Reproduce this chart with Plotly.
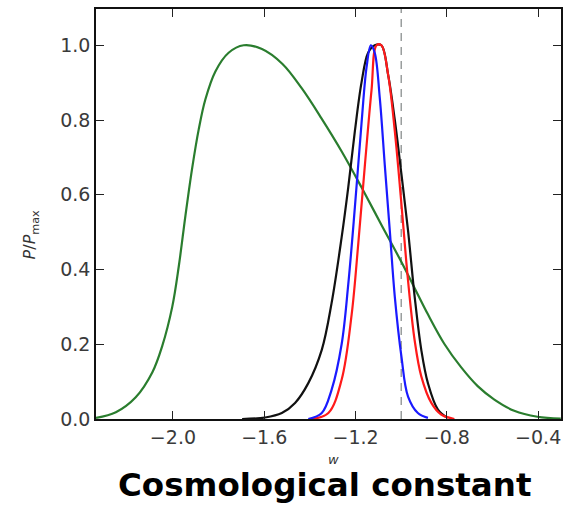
import plotly.graph_objects as go

# Data
w_green = [-2.337, -2.25, -2.163, -2.09, -2.047, -2.003, -1.974, -1.945, -1.916, -1.887, -1.858, -1.814,
           -1.756, -1.69, -1.61, -1.52, -1.436, -1.35, -1.26, -1.174, -1.087, -0.999, -0.941, -0.883,
           -0.81, -0.737, -0.665, -0.592, -0.505, -0.403, -0.301]
p_green = [0.003, 0.018, 0.058, 0.125, 0.195, 0.30, 0.41, 0.545, 0.67, 0.775, 0.855, 0.93,
           0.98, 1.0, 0.99, 0.95, 0.885, 0.805, 0.715, 0.62, 0.52, 0.42, 0.35, 0.28,
           0.20, 0.138, 0.088, 0.052, 0.022, 0.006, 0.001]

w_black = [-1.697, -1.596, -1.523, -1.465, -1.407, -1.348, -1.305, -1.261, -1.232, -1.203, -1.174,
           -1.145, -1.116, -1.087, -1.057, -1.028, -0.999, -0.97, -0.941, -0.912, -0.883, -0.839, -0.796]
p_black = [0.0, 0.004, 0.016, 0.043, 0.096, 0.185, 0.31, 0.486, 0.62, 0.77, 0.90,
           0.98, 1.0, 1.0, 0.92, 0.80, 0.655, 0.504, 0.327, 0.185, 0.096, 0.025, 0.003]

w_red = [-1.392, -1.319, -1.261, -1.217, -1.188, -1.159, -1.13, -1.108, -1.087, -1.057, -1.028,
         -0.999, -0.97, -0.941, -0.912, -0.868, -0.825, -0.767]
p_red = [0.0, 0.016, 0.105, 0.28, 0.47, 0.68, 0.88, 1.0, 1.0, 0.92, 0.77,
         0.575, 0.37, 0.21, 0.114, 0.043, 0.012, 0.0]

w_blue = [-1.407, -1.348, -1.305, -1.261, -1.232, -1.203, -1.174, -1.152, -1.133, -1.116, -1.094,
          -1.072, -1.05, -1.028, -0.999, -0.97, -0.927, -0.883]
p_blue = [0.0, 0.016, 0.078, 0.20, 0.36, 0.566, 0.79, 0.94, 1.0, 0.98, 0.86,
          0.68, 0.504, 0.327, 0.167, 0.06, 0.016, 0.003]

w_lambda = -1.0
x_ticks = [-2.0, -1.6, -1.2, -0.8, -0.4]
x_tick_text = ["\u22122.0", "\u22121.6", "\u22121.2", "\u22120.8", "\u22120.4"]
y_ticks = [0.0, 0.2, 0.4, 0.6, 0.8, 1.0]
y_tick_text = ["0.0", "0.2", "0.4", "0.6", "0.8", "1.0"]

fig = go.Figure()

fig.add_trace(go.Scatter(x=[w_lambda, w_lambda], y=[0, 1.1], mode="lines",
                         line=dict(color="#8a8f8f", width=1.3, dash="8px,6px"), hoverinfo="skip"))
for xs, ys, col in [(w_green, p_green, "#2a7d2e"), (w_black, p_black, "#111111"),
                    (w_red, p_red, "#ff1a1a"), (w_blue, p_blue, "#1a1aff")]:
    fig.add_trace(go.Scatter(x=xs, y=ys, mode="lines",
                             line=dict(color=col, width=2.2, shape="spline", smoothing=1.0)))

axis_common = dict(showgrid=False, zeroline=False, showline=True, linecolor="#111111", linewidth=1.5,
                   mirror="ticks", ticks="inside", ticklen=8, tickwidth=1.3, tickcolor="#222222",
                   tickfont=dict(family="DejaVu Sans", size=19, color="#3a3a3a"))

fig.update_layout(
    width=570, height=506,
    margin=dict(l=96, r=7, t=7, b=87),
    paper_bgcolor="white", plot_bgcolor="white",
    showlegend=False,
    xaxis=dict(range=[-2.337, -0.30], tickvals=x_ticks, ticktext=x_tick_text, **axis_common),
    yaxis=dict(range=[0, 1.097], tickvals=y_ticks, ticktext=y_tick_text, **axis_common),
    annotations=[
        dict(text="<i>w</i>", xref="paper", yref="paper", x=0.51, y=-0.098, showarrow=False,
             font=dict(family="DejaVu Sans", size=13, color="#333333"), yanchor="middle"),
        dict(text="<i>P</i>/<i>P</i><sub>max</sub>", xref="paper", yref="paper", x=-0.14, y=0.45,
             textangle=-90, showarrow=False, xanchor="center", yanchor="middle",
             font=dict(family="DejaVu Sans", size=16, color="#333333")),
        dict(text="<b>Cosmological constant</b>", xref="paper", yref="paper", x=0.491, y=-0.16,
             showarrow=False, xanchor="center", yanchor="middle",
             font=dict(family="DejaVu Sans", size=32.5, color="#000000")),
    ],
)

fig.write_html("out.html")
